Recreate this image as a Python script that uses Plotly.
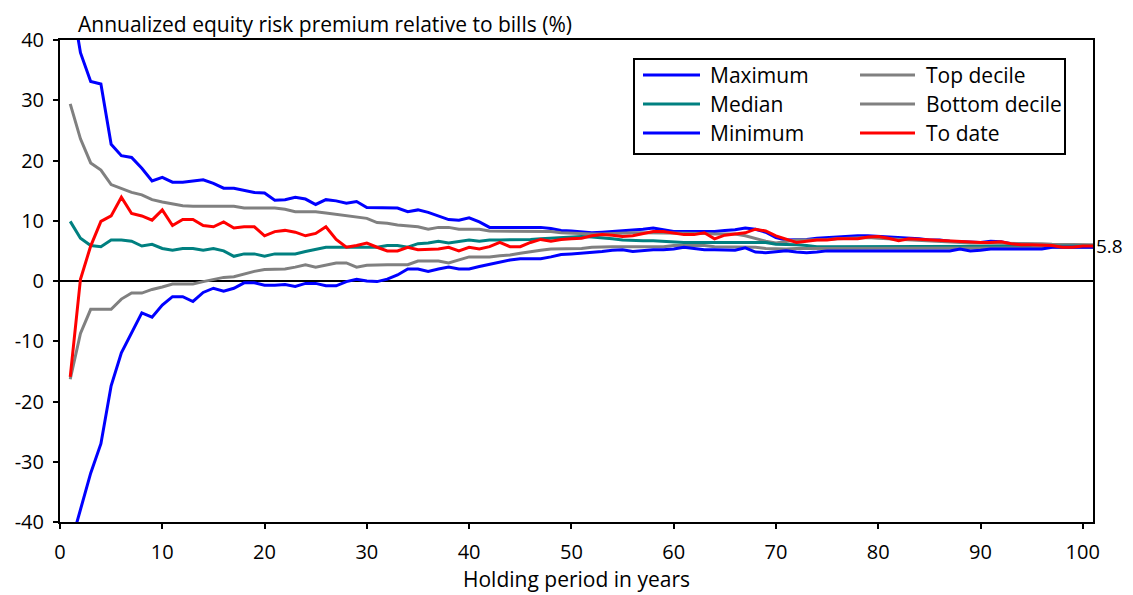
import plotly.graph_objects as go

years = list(range(1, 102))

maximum = [48.0, 37.9, 33.1, 32.7, 22.7, 20.8, 20.5, 18.7, 16.6, 17.2,
           16.4, 16.4, 16.6, 16.8, 16.2, 15.4, 15.4, 15.0, 14.7, 14.6,
           13.4, 13.5, 13.9, 13.6, 12.7, 13.5, 13.3, 12.9, 13.2, 12.2,
           12.2, 12.2, 12.1, 11.5, 11.8, 11.4, 10.8, 10.2, 10.1, 10.5,
           9.8, 8.9, 8.9, 8.9, 8.9, 8.9, 8.9, 8.7, 8.4, 8.3,
           8.2, 8.0, 8.1, 8.2, 8.3, 8.4, 8.6, 8.8, 8.5, 8.2,
           8.2, 8.2, 8.2, 8.2, 8.4, 8.5, 8.8, 8.6, 8.1, 7.2,
           6.8, 6.8, 6.9, 7.1, 7.2, 7.4, 7.5, 7.5, 7.5, 7.4,
           7.4, 7.3, 7.2, 7.0, 6.8, 6.8, 6.6, 6.5, 6.4, 6.4,
           6.6, 6.5, 6.2, 6.1, 6.1, 6.0, 6.0, 6.0, 6.0, 5.9,
           5.8]

top_decile = [29.4, 23.6, 19.6, 18.4, 16.0, 15.4, 14.7, 14.3, 13.5, 13.1,
              12.8, 12.5, 12.4, 12.4, 12.4, 12.4, 12.4, 12.1, 12.1, 12.1,
              12.1, 11.9, 11.5, 11.5, 11.5, 11.3, 11.1, 10.9, 10.6, 10.4,
              9.7, 9.6, 9.3, 9.2, 9.0, 8.6, 8.9, 8.9, 8.6, 8.6,
              8.6, 8.3, 8.3, 8.3, 8.3, 8.3, 8.3, 8.2, 8.0, 7.9,
              7.9, 7.8, 7.8, 7.9, 7.9, 8.0, 8.0, 8.0, 8.0, 7.9,
              7.9, 7.9, 7.9, 7.8, 7.8, 7.8, 7.5, 7.0, 6.6, 6.3,
              6.5, 6.8, 6.8, 6.8, 6.9, 7.0, 7.1, 7.2, 7.2, 7.1,
              7.0, 6.9, 6.8, 6.7, 6.6, 6.5, 6.5, 6.4, 6.3, 6.3,
              6.3, 6.3, 6.2, 6.2, 6.2, 6.2, 6.1, 6.1, 6.1, 6.1,
              6.0]

median = [9.9, 7.1, 5.9, 5.7, 6.8, 6.8, 6.6, 5.8, 6.1, 5.4,
          5.1, 5.4, 5.4, 5.1, 5.4, 5.0, 4.1, 4.5, 4.5, 4.1,
          4.5, 4.5, 4.5, 4.9, 5.2, 5.6, 5.6, 5.6, 5.6, 5.6,
          5.6, 5.9, 5.9, 5.6, 6.2, 6.3, 6.6, 6.3, 6.6, 6.8,
          6.6, 6.8, 6.8, 6.8, 6.8, 6.9, 7.0, 7.1, 7.2, 7.3,
          7.4, 7.3, 7.2, 7.0, 6.8, 6.7, 6.7, 6.7, 6.6, 6.4,
          6.4, 6.4, 6.4, 6.4, 6.4, 6.4, 6.4, 6.4, 6.4, 6.1,
          6.1, 6.0, 5.9, 5.7, 5.7, 5.7, 5.7, 5.7, 5.7, 5.7,
          5.7, 5.7, 5.7, 5.7, 5.7, 5.7, 5.7, 5.8, 5.8, 5.8,
          5.8, 5.8, 5.8, 5.8, 5.8, 5.8, 5.8, 5.8, 5.8, 5.8,
          5.8]

bottom_decile = [-16.3, -8.7, -4.7, -4.7, -4.7, -3.0, -2.0, -2.0, -1.4, -1.0,
                 -0.5, -0.5, -0.5, -0.1, 0.3, 0.6, 0.7, 1.2, 1.6, 1.9,
                 1.9, 2.0, 2.3, 2.7, 2.3, 2.6, 3.0, 3.0, 2.3, 2.6,
                 2.7, 2.7, 2.7, 2.7, 3.3, 3.3, 3.3, 3.0, 3.5, 4.0,
                 4.0, 4.0, 4.2, 4.3, 4.6, 4.9, 5.1, 5.3, 5.3, 5.3,
                 5.4, 5.6, 5.7, 5.7, 5.7, 5.7, 5.7, 5.7, 5.7, 5.9,
                 5.9, 5.9, 5.9, 5.7, 5.7, 5.7, 5.7, 5.6, 5.4, 5.3,
                 5.3, 5.4, 5.4, 5.4, 5.4, 5.4, 5.4, 5.4, 5.4, 5.4,
                 5.4, 5.4, 5.4, 5.4, 5.4, 5.4, 5.4, 5.4, 5.4, 5.4,
                 5.5, 5.5, 5.5, 5.5, 5.5, 5.6, 5.6, 5.6, 5.6, 5.6,
                 5.6]

minimum = [-44.0, -38.0, -31.9, -27.0, -17.4, -11.9, -8.7, -5.3, -6.0, -4.0,
           -2.6, -2.6, -3.4, -1.9, -1.2, -1.7, -1.2, -0.3, -0.3, -0.7,
           -0.7, -0.6, -0.9, -0.4, -0.4, -0.8, -0.8, -0.1, 0.3, 0.0,
           -0.1, 0.3, 1.0, 2.0, 2.0, 1.6, 2.0, 2.3, 2.0, 2.0,
           2.4, 2.8, 3.1, 3.5, 3.7, 3.7, 3.7, 4.0, 4.4, 4.5,
           4.6, 4.7, 4.9, 5.1, 5.2, 4.9, 5.1, 5.2, 5.2, 5.3,
           5.6, 5.4, 5.2, 5.2, 5.2, 5.1, 5.5, 4.8, 4.7, 4.9,
           5.0, 4.8, 4.7, 4.8, 5.0, 5.0, 5.0, 5.0, 5.0, 5.0,
           5.0, 5.0, 5.0, 5.0, 5.0, 5.0, 5.0, 5.3, 5.0, 5.1,
           5.3, 5.3, 5.3, 5.3, 5.3, 5.3, 5.6, 5.6, 5.6, 5.6,
           5.6]

to_date = [-15.9, 0.3, 5.8, 9.9, 10.8, 13.9, 11.2, 10.8, 10.1, 11.8,
           9.2, 10.2, 10.2, 9.2, 9.0, 9.8, 8.8, 9.0, 9.0, 7.5,
           8.2, 8.4, 8.1, 7.5, 7.9, 9.0, 6.9, 5.6, 5.9, 6.3,
           5.6, 5.0, 5.0, 5.6, 5.2, 5.3, 5.3, 5.6, 5.0, 5.6,
           5.3, 5.7, 6.4, 5.7, 5.7, 6.4, 6.9, 6.6, 6.9, 7.0,
           7.1, 7.5, 7.7, 7.6, 7.4, 7.5, 7.9, 8.2, 8.2, 8.0,
           7.7, 7.7, 8.0, 7.0, 7.6, 7.8, 8.0, 8.6, 8.3, 7.5,
           6.9, 6.4, 6.6, 6.8, 6.8, 7.0, 7.0, 7.0, 7.3, 7.4,
           7.1, 6.7, 7.0, 6.9, 6.8, 6.7, 6.6, 6.5, 6.4, 6.4,
           6.4, 6.5, 6.2, 6.0, 6.0, 6.0, 5.9, 5.6, 5.6, 5.8,
           5.8]

series_names = ["Maximum", "Top decile", "Median", "Bottom decile", "Minimum", "To date"]
series_data = [maximum, top_decile, median, bottom_decile, minimum, to_date]
series_colors = ["#0000FF", "#808080", "#008080", "#808080", "#0000FF", "#FF0000"]

y_ticks = [-40, -30, -20, -10, 0, 10, 20, 30, 40]
y_ticklabels = ["-40", "-30", "-20", "-10", "0", "10", "20", "30", "40"]
x_ticks = [0, 10, 20, 30, 40, 50, 60, 70, 80, 90, 100]

FONT = "Open Sans"
FS = 21      # titles, legend
FS_TICK = 20
OFF = 8  # page body margin
W, H = 1133 - OFF, 595 - OFF
# absolute target plot box: x 60..1093, y 40..521.7
ML, MR, MT = 60 - OFF, 1133 - 1093, 40 - OFF
MB = H - (522 - OFF)

fig = go.Figure()
for name, data, color in zip(series_names, series_data, series_colors):
    fig.add_trace(go.Scatter(x=years, y=data, mode="lines", name=name,
                             line=dict(color=color, width=3), showlegend=False))

pw = W - ML - MR
ph = H - MT - MB
def px(xa):
    return (xa - OFF - ML) / pw
def py(ya):
    return (H - MB - (ya - OFF)) / ph

shapes = [dict(type="rect", xref="paper", yref="paper",
               x0=px(634), x1=px(1065), y0=py(154), y1=py(59),
               line=dict(color="black", width=2), fillcolor="white", layer="above")]
annotations = []
row_y = [75, 104, 133]
col_x = [(643, 700, 710), (860, 915, 926)]
for i, (name, color) in enumerate(zip(series_names, series_colors)):
    r, c = divmod(i, 2)
    x0, x1, xt = col_x[c]
    yy = row_y[r]
    shapes.append(dict(type="line", xref="paper", yref="paper",
                       x0=px(x0), x1=px(x1), y0=py(yy), y1=py(yy),
                       line=dict(color=color, width=3), layer="above"))
    annotations.append(dict(xref="paper", yref="paper", x=px(xt), y=py(yy),
                            text=name, showarrow=False, xanchor="left", yanchor="middle",
                            xshift=-2, font=dict(family=FONT, size=FS, color="black")))

annotations.append(dict(xref="paper", yref="paper", x=px(76), y=py(OFF),
                        text="Annualized equity risk premium relative to bills (%)",
                        showarrow=False, xanchor="left", yanchor="top",
                        font=dict(family=FONT, size=FS, color="black")))
annotations.append(dict(xref="x", yref="y", x=years[-1], y=to_date[-1], xshift=1,
                        text=f"{to_date[-1]:.1f}", showarrow=False, xanchor="left",
                        yanchor="middle", font=dict(family=FONT, size=19, color="black")))

fig.update_layout(
    width=W, height=H,
    margin=dict(l=ML, r=MR, t=MT, b=MB, autoexpand=False),
    paper_bgcolor="white", plot_bgcolor="white",
    font=dict(family=FONT, size=FS_TICK, color="black"),
    shapes=shapes, annotations=annotations,
    showlegend=False,
)
fig.update_xaxes(range=[0, 101], tickvals=x_ticks, showgrid=False, zeroline=False,
                 showline=True, linecolor="black", linewidth=2, mirror=True,
                 ticks="outside", ticklen=5, tickwidth=1.5, tickcolor="black",
                 ticklabelstandoff=6, automargin=False,
                 tickfont=dict(family=FONT, size=FS_TICK),
                 title=dict(text="Holding period in years", standoff=7,
                            font=dict(family=FONT, size=FS)))
fig.update_yaxes(range=[-40, 40], tickvals=y_ticks, ticktext=y_ticklabels,
                 showgrid=False, zeroline=True, zerolinecolor="black", zerolinewidth=1.5,
                 showline=True, linecolor="black", linewidth=2, mirror=True,
                 ticks="outside", ticklen=5, tickwidth=1.5, tickcolor="black",
                 ticklabelstandoff=5, automargin=False,
                 tickfont=dict(family=FONT, size=FS_TICK))

fig.write_html("out.html")
